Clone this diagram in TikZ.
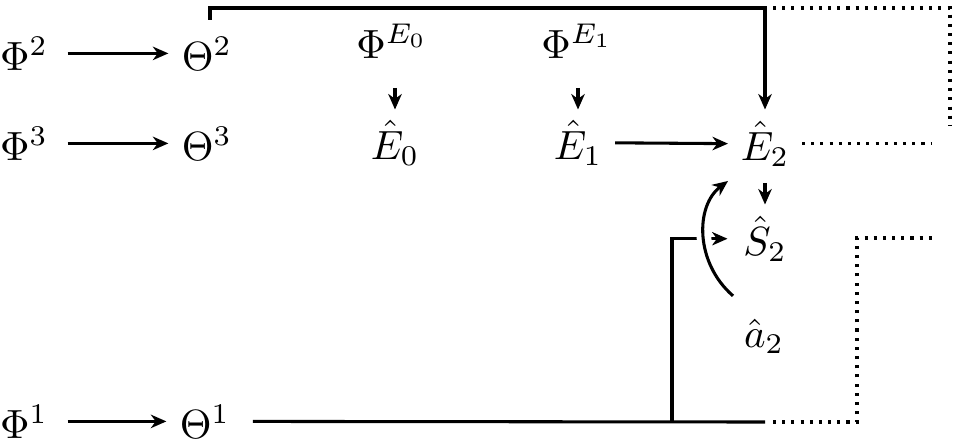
\documentclass[tikz,border=0pt]{standalone}
\usetikzlibrary{arrows.meta}
\newlength\pxu
\setlength\pxu{0.245pt}
\begin{document}
\begin{tikzpicture}[x=0.245pt,y=-0.245pt,
  lbl/.style={inner sep=0pt, anchor=base},
  ln/.style={line width=0.75pt},
  arr/.style={ln, -{Stealth[length=3.8pt,width=3.3pt,inset=1.2pt]}},
  dotln/.style={line width=0.75pt, dash pattern=on 0.75pt off 1.5pt},
  hor/.style={arr, shorten <=18.8\pxu, shorten >=12.8\pxu}]
\useasboundingbox (0,0) rectangle (957,446);
% nodes
\node[lbl] (phi2)   at (24,70)   {$\Phi^2$};
\node[lbl] (theta2) at (207,70)  {$\Theta^2$};
\node[lbl] (phiE0)  at (392,58)  {$\Phi^{E_0}$};
\node[lbl] (phiE1)  at (577,58)  {$\Phi^{E_1}$};
\node[lbl] (phi3)   at (24,160)  {$\Phi^3$};
\node[lbl] (theta3) at (207,160) {$\Theta^3$};
\node[lbl] (E0)     at (395,159) {$\hat{E}_0$};
\node[lbl] (E1)     at (578,159) {$\hat{E}_1$};
\node[lbl] (E2)     at (765,160) {$\hat{E}_2$};
\node[lbl] (S2)     at (765,255) {$\hat{S}_2$};
\node[lbl] (a2)     at (764,347) {$\hat{a}_2$};
\node[lbl] (phi1)   at (24,438)  {$\Phi^1$};
\node[lbl] (theta1) at (205,438) {$\Theta^1$};
% corner coordinates
\coordinate (tc) at (765,8);
\coordinate (tr) at (950,125);
\coordinate (rE) at (932,145);
\coordinate (bc) at (765,422);
\coordinate (bx) at (857,238);
\coordinate (br) at (932,238);
\coordinate (vb) at (672,422);
% horizontal arrows
\draw[hor] (phi2.east) -- (theta2.west);
\draw[hor] (phi3.east) -- (theta3.west);
\draw[hor] (phi1.east) -- (theta1.west);
\draw[arr, shorten <=12\pxu, shorten >=12\pxu] (E1.east) -- (E2.west);
% vertical short arrows
\draw[arr, shorten <=29\pxu, shorten >=10\pxu] (E0.north |- phiE0.south) -- (E0.north);
\draw[arr, shorten <=29\pxu, shorten >=10\pxu] (E1.north |- phiE1.south) -- (E1.north);
\draw[arr, shorten <=16\pxu, shorten >=11\pxu] (E2.south) -- (S2.north);
% top connector
\draw[arr, shorten <=16\pxu, shorten >=11\pxu] (theta2.north -| 210,0) |- (tc) -- (E2.north);
\draw[dotln, shorten <=8\pxu] (tc) -| (tr);
\draw[dotln, shorten <=12\pxu] (E2.east) -- (E2.east -| rE);
% bottom connector
\draw[ln, shorten <=22\pxu] (theta1.east) -- (bc);
\draw[dotln, shorten <=8\pxu] (bc) -| (bx) -- (br);
\draw[arr, shorten >=15\pxu] (vb) |- (S2.west);
% curved arrow with gap
\draw[white, line width=3.6pt]
  ([shift={(-31,-22)}]a2.north) .. controls +(-38,-33) and +(-33,25) .. ([shift={(-37,14)}]E2.south);
\draw[arr]
  ([shift={(-31,-22)}]a2.north) .. controls +(-38,-33) and +(-33,25) .. ([shift={(-37,14)}]E2.south);
\end{tikzpicture}
\end{document}
